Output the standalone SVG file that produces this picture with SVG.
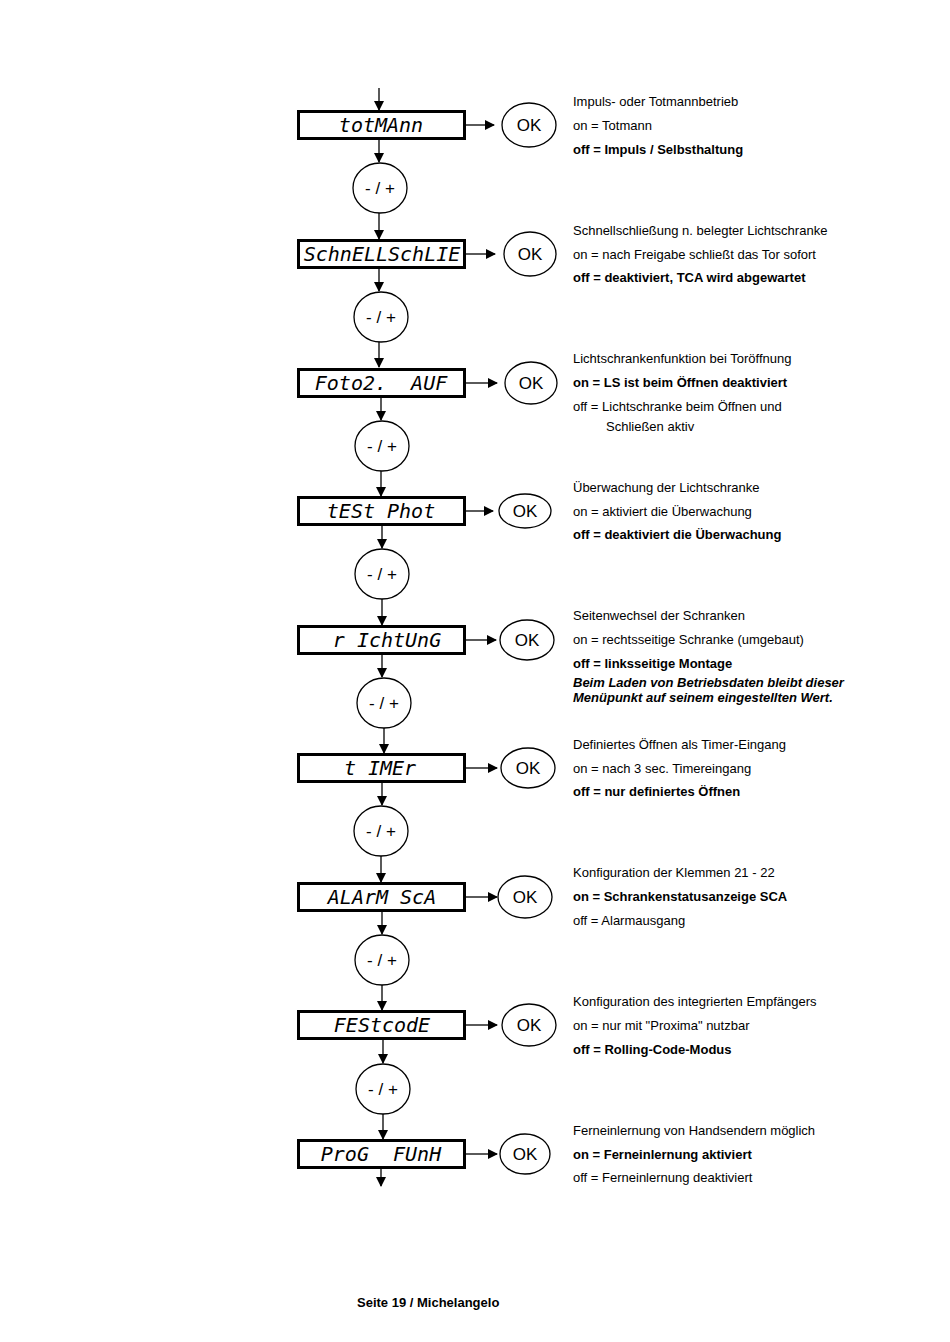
<svg xmlns="http://www.w3.org/2000/svg" width="950" height="1342" viewBox="0 0 950 1342">
<style>
.box{fill:#fff;stroke:#000;stroke-width:3}
.ell{fill:#fff;stroke:#000;stroke-width:1.3}
.lcd{font-family:"DejaVu Sans Mono","Liberation Mono",monospace;font-size:20px;font-style:oblique;white-space:pre;text-anchor:middle}
.ok{font-family:"Liberation Sans",Arial,sans-serif;font-size:17px;text-anchor:middle}
.pm{font-family:"Liberation Sans",Arial,sans-serif;font-size:17px;text-anchor:middle}
.t{font-family:"Liberation Sans",Arial,sans-serif;font-size:13px}
.b{font-weight:bold}
.bi{font-weight:bold;font-style:italic}
.ln{stroke:#000;stroke-width:1.3;fill:none}
</style>
<defs>
<marker id="ah" markerWidth="10" markerHeight="10" refX="9" refY="5" orient="auto" markerUnits="userSpaceOnUse">
<path d="M0,0 L10,5 L0,10 Z" fill="#000"/>
</marker>
</defs>
<rect width="950" height="1342" fill="#fff"/>
<g id="connectors">
<line class="ln" x1="379" y1="88" x2="379" y2="110" marker-end="url(#ah)"/>
<line class="ln" x1="465" y1="125" x2="494" y2="125" marker-end="url(#ah)"/>
<line class="ln" x1="379" y1="140" x2="379" y2="162" marker-end="url(#ah)"/>
<line class="ln" x1="379" y1="213" x2="379" y2="239" marker-end="url(#ah)"/>
<line class="ln" x1="465" y1="254" x2="495" y2="254" marker-end="url(#ah)"/>
<line class="ln" x1="379" y1="269" x2="379" y2="291" marker-end="url(#ah)"/>
<line class="ln" x1="379" y1="342" x2="379" y2="367" marker-end="url(#ah)"/>
<line class="ln" x1="465" y1="383" x2="497" y2="383" marker-end="url(#ah)"/>
<line class="ln" x1="381" y1="397" x2="381" y2="420" marker-end="url(#ah)"/>
<line class="ln" x1="381" y1="471" x2="381" y2="496" marker-end="url(#ah)"/>
<line class="ln" x1="465" y1="511" x2="493" y2="511" marker-end="url(#ah)"/>
<line class="ln" x1="382" y1="526" x2="382" y2="548" marker-end="url(#ah)"/>
<line class="ln" x1="382" y1="599" x2="382" y2="625" marker-end="url(#ah)"/>
<line class="ln" x1="465" y1="640" x2="496" y2="640" marker-end="url(#ah)"/>
<line class="ln" x1="382" y1="655" x2="382" y2="677" marker-end="url(#ah)"/>
<line class="ln" x1="384" y1="728" x2="384" y2="753" marker-end="url(#ah)"/>
<line class="ln" x1="465" y1="768" x2="497" y2="768" marker-end="url(#ah)"/>
<line class="ln" x1="382" y1="783" x2="382" y2="805" marker-end="url(#ah)"/>
<line class="ln" x1="381" y1="856" x2="381" y2="882" marker-end="url(#ah)"/>
<line class="ln" x1="465" y1="897" x2="497" y2="897" marker-end="url(#ah)"/>
<line class="ln" x1="382" y1="912" x2="382" y2="934" marker-end="url(#ah)"/>
<line class="ln" x1="382" y1="985" x2="382" y2="1010" marker-end="url(#ah)"/>
<line class="ln" x1="465" y1="1025" x2="497" y2="1025" marker-end="url(#ah)"/>
<line class="ln" x1="383" y1="1040" x2="383" y2="1063" marker-end="url(#ah)"/>
<line class="ln" x1="383" y1="1114" x2="383" y2="1139" marker-end="url(#ah)"/>
<line class="ln" x1="465" y1="1154" x2="497" y2="1154" marker-end="url(#ah)"/>
<line class="ln" x1="381" y1="1162" x2="381" y2="1186" marker-end="url(#ah)"/>
</g>
<g id="n1"><rect class="box" x="298.5" y="111.5" width="166" height="27"/><text class="lcd" x="381" y="132">totMAnn</text></g>
<g id="ok1"><ellipse class="ell" cx="529" cy="125" rx="27" ry="22"/><text class="ok" x="529" y="131">OK</text></g>
<g id="pm1"><ellipse class="ell" cx="380" cy="188" rx="27" ry="25"/><text class="pm" x="380" y="194">- / +</text></g>
<g id="n2"><rect class="box" x="298.5" y="240.5" width="166" height="27"/><text class="lcd" x="382" y="261">SchnELLSchLIE</text></g>
<g id="ok2"><ellipse class="ell" cx="530" cy="254" rx="26" ry="22"/><text class="ok" x="530" y="260">OK</text></g>
<g id="pm2"><ellipse class="ell" cx="381" cy="317" rx="27" ry="25"/><text class="pm" x="381" y="323">- / +</text></g>
<g id="n3"><rect class="box" x="298.5" y="369.5" width="166" height="27"/><text class="lcd" x="381" y="390">Foto2.  AUF</text></g>
<g id="ok3"><ellipse class="ell" cx="531" cy="383" rx="26" ry="21"/><text class="ok" x="531" y="389">OK</text></g>
<g id="pm3"><ellipse class="ell" cx="382" cy="446" rx="27" ry="25"/><text class="pm" x="382" y="452">- / +</text></g>
<g id="n4"><rect class="box" x="298.5" y="497.5" width="166" height="27"/><text class="lcd" x="381" y="518">tESt Phot</text></g>
<g id="ok4"><ellipse class="ell" cx="525" cy="511" rx="26" ry="17"/><text class="ok" x="525" y="517">OK</text></g>
<g id="pm4"><ellipse class="ell" cx="382" cy="574" rx="27" ry="25"/><text class="pm" x="382" y="580">- / +</text></g>
<g id="n5"><rect class="box" x="298.5" y="626.5" width="166" height="27"/><text class="lcd" x="387" y="647">r IchtUnG</text></g>
<g id="ok5"><ellipse class="ell" cx="527" cy="640" rx="27" ry="20"/><text class="ok" x="527" y="646">OK</text></g>
<g id="pm5"><ellipse class="ell" cx="384" cy="703" rx="27" ry="25"/><text class="pm" x="384" y="709">- / +</text></g>
<g id="n6"><rect class="box" x="298.5" y="754.5" width="166" height="27"/><text class="lcd" x="380" y="775">t IMEr</text></g>
<g id="ok6"><ellipse class="ell" cx="528" cy="768" rx="27" ry="20"/><text class="ok" x="528" y="774">OK</text></g>
<g id="pm6"><ellipse class="ell" cx="381" cy="831" rx="27" ry="25"/><text class="pm" x="381" y="837">- / +</text></g>
<g id="n7"><rect class="box" x="298.5" y="883.5" width="166" height="27"/><text class="lcd" x="382" y="904">ALArM ScA</text></g>
<g id="ok7"><ellipse class="ell" cx="525" cy="897" rx="27" ry="21"/><text class="ok" x="525" y="903">OK</text></g>
<g id="pm7"><ellipse class="ell" cx="382" cy="960" rx="27" ry="25"/><text class="pm" x="382" y="966">- / +</text></g>
<g id="n8"><rect class="box" x="298.5" y="1011.5" width="166" height="27"/><text class="lcd" x="382" y="1032">FEStcodE</text></g>
<g id="ok8"><ellipse class="ell" cx="529" cy="1025" rx="27" ry="21"/><text class="ok" x="529" y="1031">OK</text></g>
<g id="pm8"><ellipse class="ell" cx="383" cy="1089" rx="27" ry="25"/><text class="pm" x="383" y="1095">- / +</text></g>
<g id="n9"><rect class="box" x="298.5" y="1140.5" width="166" height="27"/><text class="lcd" x="381" y="1161">ProG  FUnH</text></g>
<g id="ok9"><ellipse class="ell" cx="525" cy="1154" rx="25" ry="20"/><text class="ok" x="525" y="1160">OK</text></g>
<g id="texts">
<text class="t" x="573" y="105.5">Impuls- oder Totmannbetrieb</text>
<text class="t" x="573" y="129.5">on = Totmann</text>
<text class="t b" x="573" y="153.5">off = Impuls / Selbsthaltung</text>
<text class="t" x="573" y="234.5">Schnellschließung n. belegter Lichtschranke</text>
<text class="t" x="573" y="258.5">on = nach Freigabe schließt das Tor sofort</text>
<text class="t b" x="573" y="281.5">off = deaktiviert, TCA wird abgewartet</text>
<text class="t" x="573" y="362.5">Lichtschrankenfunktion bei Toröffnung</text>
<text class="t b" x="573" y="386.5">on = LS ist beim Öffnen deaktiviert</text>
<text class="t" x="573" y="410.5">off = Lichtschranke beim Öffnen und</text>
<text class="t" x="606" y="430.5">Schließen aktiv</text>
<text class="t" x="573" y="491.5">Überwachung der Lichtschranke</text>
<text class="t" x="573" y="515.5">on = aktiviert die Überwachung</text>
<text class="t b" x="573" y="538.5">off = deaktiviert die Überwachung</text>
<text class="t" x="573" y="619.5">Seitenwechsel der Schranken</text>
<text class="t" x="573" y="643.5">on = rechtsseitige Schranke (umgebaut)</text>
<text class="t b" x="573" y="667.5">off = linksseitige Montage</text>
<text class="t bi" x="573" y="686.5">Beim Laden von Betriebsdaten bleibt dieser</text>
<text class="t bi" x="573" y="701.5">Menüpunkt auf seinem eingestellten Wert.</text>
<text class="t" x="573" y="748.5">Definiertes Öffnen als Timer-Eingang</text>
<text class="t" x="573" y="772.5">on = nach 3 sec. Timereingang</text>
<text class="t b" x="573" y="795.5">off = nur definiertes Öffnen</text>
<text class="t" x="573" y="876.5">Konfiguration der Klemmen 21 - 22</text>
<text class="t b" x="573" y="900.5">on = Schrankenstatusanzeige SCA</text>
<text class="t" x="573" y="924.5">off = Alarmausgang</text>
<text class="t" x="573" y="1005.5">Konfiguration des integrierten Empfängers</text>
<text class="t" x="573" y="1029.5">on = nur mit "Proxima" nutzbar</text>
<text class="t b" x="573" y="1053.5">off = Rolling-Code-Modus</text>
<text class="t" x="573" y="1134.5">Ferneinlernung von Handsendern möglich</text>
<text class="t b" x="573" y="1158.5">on = Ferneinlernung aktiviert</text>
<text class="t" x="573" y="1181.5">off = Ferneinlernung deaktiviert</text>
<text class="t b" x="357" y="1306.5">Seite 19 / Michelangelo</text>
</g>
</svg>
